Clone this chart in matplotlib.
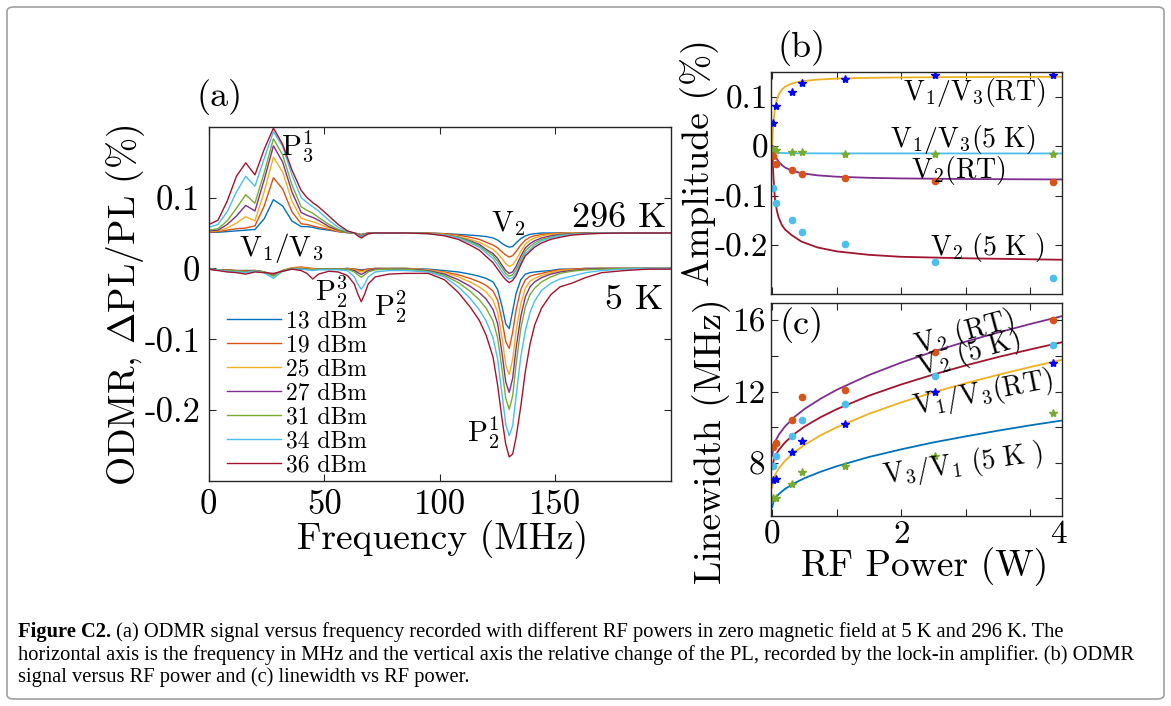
import matplotlib
matplotlib.use("Agg")
import matplotlib.pyplot as plt
from matplotlib.patches import FancyBboxPatch

plt.rcParams['font.family'] = ['cmr10', 'DejaVu Serif']
plt.rcParams['mathtext.fontset'] = 'cm'
plt.rcParams['axes.unicode_minus'] = False

# ---------------- data: panel (a) ----------------
freq_mhz = [0, 4, 8, 12, 16, 20, 24, 28, 32, 36,
            40, 42.5, 45, 47.5, 52, 56, 60, 63, 64.5, 66,
            67.5, 69, 72, 78, 85, 95, 102, 108, 113, 117,
            120, 123, 125, 127, 128.5, 130, 131.5, 133, 135, 137,
            139, 141, 144, 148, 152, 157, 163, 170, 180, 190,
            200]

power_labels = ["13 dBm", "19 dBm", "25 dBm", "27 dBm", "31 dBm", "34 dBm", "36 dBm"]
offset_296k = 0.05

odmr_296k_13 = [0.001, 0.001, 0.002, 0.003, 0.004, 0.005, 0.020, 0.047, 0.038, 0.017,
                0.009, 0.009, 0.008, 0.006, 0.004, 0.002, 0.0005, 0.0, -0.001, -0.002,
                -0.001, 0.0, 0.0, 0.0, 0.0, 0.0, -0.001, -0.002, -0.003, -0.004,
                -0.005, -0.007, -0.010, -0.015, -0.018, -0.020, -0.019, -0.014, -0.008, -0.004,
                -0.002, -0.001, 0.0, 0.0, 0.0, 0.0, 0.0, 0.0, 0.0, 0.0,
                0.0]
odmr_296k_19 = [0.001, 0.002, 0.004, 0.006, 0.007, 0.010, 0.038, 0.078, 0.062, 0.030,
                0.013, 0.012, 0.010, 0.008, 0.005, 0.002, 0.0005, 0.0, -0.0012, -0.0025,
                -0.0012, 0.0, 0.0, 0.0, 0.0, 0.0, -0.001, -0.003, -0.006, -0.009,
                -0.013, -0.017, -0.021, -0.027, -0.031, -0.034, -0.032, -0.026, -0.017, -0.010,
                -0.006, -0.004, -0.002, -0.001, 0.0, 0.0, 0.0, 0.0, 0.0, 0.0,
                0.0]
odmr_296k_25 = [0.002, 0.003, 0.007, 0.014, 0.023, 0.017, 0.058, 0.107, 0.086, 0.045,
                0.021, 0.018, 0.016, 0.013, 0.007, 0.003, 0.001, 0.0, -0.0015, -0.003,
                -0.0015, -0.0005, 0.0, 0.0, 0.0, 0.0, -0.002, -0.005, -0.009, -0.013,
                -0.018, -0.023, -0.029, -0.037, -0.043, -0.047, -0.045, -0.038, -0.026, -0.016,
                -0.010, -0.007, -0.004, -0.002, -0.001, 0.0, 0.0, 0.0, 0.0, 0.0,
                0.0]
odmr_296k_27 = [0.003, 0.004, 0.012, 0.024, 0.039, 0.031, 0.075, 0.123, 0.100, 0.058,
                0.029, 0.025, 0.022, 0.018, 0.009, 0.004, 0.001, 0.0, -0.002, -0.004,
                -0.002, -0.0005, 0.0, 0.0, 0.0, -0.0005, -0.003, -0.006, -0.011, -0.016,
                -0.023, -0.029, -0.036, -0.046, -0.053, -0.057, -0.055, -0.047, -0.033, -0.021,
                -0.015, -0.011, -0.007, -0.004, -0.002, -0.001, 0.0, 0.0, 0.0, 0.0,
                0.0]
odmr_296k_31 = [0.004, 0.006, 0.017, 0.035, 0.054, 0.042, 0.085, 0.133, 0.110, 0.068,
                0.037, 0.032, 0.028, 0.022, 0.012, 0.005, 0.001, 0.0, -0.003, -0.0055,
                -0.003, -0.001, 0.0, 0.0, 0.0, -0.0005, -0.003, -0.006, -0.012, -0.018,
                -0.025, -0.032, -0.040, -0.050, -0.057, -0.061, -0.059, -0.052, -0.038, -0.025,
                -0.019, -0.014, -0.009, -0.006, -0.003, -0.0015, -0.0005, 0.0, 0.0, 0.0,
                0.0]
odmr_296k_34 = [0.008, 0.012, 0.030, 0.058, 0.080, 0.066, 0.105, 0.143, 0.122, 0.082,
                0.050, 0.043, 0.037, 0.031, 0.018, 0.008, 0.002, 0.0, -0.003, -0.005,
                -0.003, -0.001, 0.0, 0.0, 0.0, -0.001, -0.003, -0.007, -0.014, -0.020,
                -0.028, -0.036, -0.045, -0.055, -0.061, -0.065, -0.063, -0.056, -0.042, -0.029,
                -0.023, -0.017, -0.011, -0.007, -0.004, -0.002, -0.001, 0.0, 0.0, 0.0,
                0.0]
odmr_296k_36 = [0.012, 0.018, 0.045, 0.080, 0.099, 0.082, 0.118, 0.148, 0.125, 0.089,
                0.060, 0.050, 0.043, 0.037, 0.024, 0.012, 0.003, 0.000, -0.004, -0.007,
                -0.004, -0.001, 0.0, 0.0, 0.0, -0.001, -0.004, -0.009, -0.017, -0.024,
                -0.033, -0.042, -0.051, -0.060, -0.066, -0.070, -0.067, -0.060, -0.045, -0.032,
                -0.026, -0.020, -0.014, -0.009, -0.006, -0.003, -0.0015, -0.0005, 0.0, 0.0,
                0.0]

odmr_5k_13 = [-0.001, -0.002, -0.002, -0.003, -0.003, -0.003, -0.005, -0.009, -0.004, 0.0,
              0.001, 0.0, -0.001, -0.001, -0.001, -0.001, 0.0, -0.001, -0.0015, -0.002,
              -0.0015, -0.001, 0.0, 0.0, 0.0, -0.001, -0.003, -0.005, -0.008, -0.011,
              -0.014, -0.019, -0.030, -0.055, -0.078, -0.085, -0.060, -0.035, -0.016, -0.008,
              -0.006, -0.005, -0.004, -0.003, -0.001, -0.001, 0.0, 0.0, 0.0, 0.0,
              0.0]
odmr_5k_19 = [-0.001, -0.002, -0.002, -0.003, -0.003, -0.003, -0.005, -0.009, -0.003, 0.001,
              0.002, 0.001, 0.0, -0.001, -0.001, -0.001, 0.0, -0.001, -0.002, -0.003,
              -0.002, -0.001, 0.0, 0.0, 0.0, -0.002, -0.005, -0.009, -0.014, -0.019,
              -0.024, -0.032, -0.045, -0.075, -0.103, -0.113, -0.090, -0.058, -0.030, -0.016,
              -0.011, -0.009, -0.007, -0.004, -0.002, -0.001, 0.0, 0.0, 0.0, 0.0,
              0.0]
odmr_5k_25 = [-0.001, -0.002, -0.003, -0.003, -0.004, -0.003, -0.005, -0.010, -0.003, 0.001,
              0.001, 0.0, -0.001, -0.001, -0.001, -0.001, -0.0005, -0.002, -0.004, -0.005,
              -0.004, -0.002, -0.001, -0.0005, 0.0, -0.002, -0.006, -0.012, -0.019, -0.026,
              -0.033, -0.045, -0.062, -0.100, -0.136, -0.150, -0.128, -0.088, -0.050, -0.028,
              -0.018, -0.014, -0.010, -0.006, -0.003, -0.002, -0.001, 0.0, 0.0, 0.0,
              0.0]
odmr_5k_27 = [-0.001, -0.002, -0.003, -0.004, -0.004, -0.003, -0.005, -0.010, -0.003, 0.0,
              0.0, -0.001, -0.002, -0.001, -0.001, -0.001, -0.001, -0.003, -0.006, -0.0085,
              -0.006, -0.003, -0.001, -0.001, -0.0005, -0.003, -0.008, -0.016, -0.025, -0.034,
              -0.043, -0.058, -0.078, -0.122, -0.160, -0.175, -0.155, -0.112, -0.068, -0.040,
              -0.026, -0.019, -0.013, -0.008, -0.005, -0.003, -0.001, 0.0, 0.0, 0.0,
              0.0]
odmr_5k_31 = [-0.001, -0.002, -0.003, -0.004, -0.005, -0.003, -0.005, -0.011, -0.003, 0.0,
              -0.001, -0.001, -0.002, -0.001, -0.001, -0.001, -0.001, -0.005, -0.009, -0.0125,
              -0.009, -0.005, -0.002, -0.001, -0.001, -0.004, -0.010, -0.020, -0.032, -0.044,
              -0.056, -0.074, -0.098, -0.145, -0.183, -0.199, -0.180, -0.135, -0.085, -0.054,
              -0.037, -0.028, -0.019, -0.012, -0.007, -0.004, -0.002, -0.001, 0.0, 0.0,
              0.0]
odmr_5k_34 = [-0.001, -0.002, -0.004, -0.005, -0.006, -0.004, -0.006, -0.014, -0.004, -0.001,
              -0.001, -0.002, -0.003, -0.002, -0.002, -0.002, -0.003, -0.012, -0.022, -0.0295,
              -0.022, -0.012, -0.005, -0.003, -0.003, -0.005, -0.012, -0.026, -0.042, -0.058,
              -0.074, -0.098, -0.128, -0.180, -0.220, -0.236, -0.222, -0.180, -0.125, -0.088,
              -0.062, -0.046, -0.031, -0.021, -0.015, -0.011, -0.006, -0.003, -0.001, 0.0,
              0.0]
odmr_5k_36 = [-0.001, -0.003, -0.005, -0.006, -0.008, -0.005, -0.006, -0.007, -0.004, -0.001,
              -0.003, -0.007, -0.015, -0.008, -0.004, -0.005, -0.010, -0.022, -0.036, -0.047,
              -0.036, -0.022, -0.012, -0.008, -0.007, -0.007, -0.016, -0.034, -0.054, -0.073,
              -0.094, -0.125, -0.165, -0.215, -0.248, -0.266, -0.262, -0.238, -0.195, -0.145,
              -0.107, -0.080, -0.056, -0.037, -0.026, -0.021, -0.013, -0.006, -0.003, -0.001,
              -0.001]

# ---------------- data: panels (b) and (c) ----------------
rf_power_w = [0.01, 0.06, 0.30, 0.46, 1.13, 2.53, 4.35]

amp_v13_rt = [0.047, 0.081, 0.110, 0.129, 0.137, 0.145, 0.145]
amp_v13_5k = [-0.005, -0.008, -0.012, -0.012, -0.015, -0.015, -0.015]
amp_v2_rt = [-0.020, -0.036, -0.049, -0.056, -0.064, -0.071, -0.072]
amp_v2_5k = [-0.084, -0.114, -0.149, -0.174, -0.198, -0.235, -0.267]

fit_power_b = [0, 0.005, 0.01, 0.02, 0.04, 0.07, 0.1, 0.15, 0.2, 0.3, 0.45, 0.7, 1.0, 1.5, 2.0, 3.0, 4.49]
fit_amp_v13_rt = [0.0, 0.0178, 0.0316, 0.0516, 0.0757, 0.0947, 0.1052, 0.1151, 0.1209, 0.1272,
                  0.1318, 0.1352, 0.1372, 0.1388, 0.1396, 0.1404, 0.1409]
fit_amp_v13_5k = [0.0, -0.0048, -0.0073, -0.0097, -0.0116, -0.0127, -0.0132, -0.0136, -0.0138, -0.0140,
                  -0.0142, -0.0143, -0.0144, -0.0144, -0.0144, -0.0145, -0.0145]
fit_amp_v2_rt = [0.0, -0.0028, -0.0053, -0.0099, -0.0173, -0.0254, -0.0314, -0.0383, -0.0431, -0.0493,
                 -0.0545, -0.0589, -0.0616, -0.0639, -0.0651, -0.0663, -0.0672]
fit_amp_v2_5k = [0.0, -0.022, -0.040, -0.068, -0.105, -0.130, -0.145, -0.160, -0.169, -0.180,
                 -0.193, -0.205, -0.213, -0.220, -0.224, -0.227, -0.230]

lw_v2_rt = [8.9, 9.1, 10.4, 11.7, 12.1, 14.2, 16.0]
lw_v2_5k = [7.8, 8.4, 9.5, 10.4, 11.3, 12.9, 14.6]
lw_v13_rt = [7.05, 7.1, 8.6, 9.2, 10.2, 12.0, 13.6]
lw_v31_5k = [6.0, 6.0, 6.8, 7.5, 7.8, 8.4, 10.8]

fit_power_c = [0, 0.02, 0.05, 0.1, 0.2, 0.35, 0.5, 0.75, 1.0, 1.5, 2.0, 2.5, 3.0, 3.5, 4.0, 4.49]
fit_lw_v2_rt = [8.40, 8.92, 9.23, 9.57, 10.05, 10.59, 11.02, 11.60, 12.10, 12.93, 13.63, 14.25, 14.81, 15.32, 15.80, 16.24]
fit_lw_v2_5k = [7.65, 8.12, 8.40, 8.71, 9.15, 9.64, 10.03, 10.56, 11.01, 11.77, 12.40, 12.96, 13.47, 13.94, 14.37, 14.77]
fit_lw_v13_rt = [6.60, 7.08, 7.36, 7.67, 8.12, 8.61, 9.00, 9.54, 9.99, 10.75, 11.39, 11.96, 12.47, 12.94, 13.38, 13.78]
fit_lw_v31_5k = [5.50, 5.82, 6.02, 6.23, 6.53, 6.86, 7.13, 7.49, 7.80, 8.32, 8.75, 9.14, 9.48, 9.80, 10.10, 10.37]

caption_lines = [
    " (a) ODMR signal versus frequency recorded with different RF powers in zero magnetic field at 5 K and 296 K. The",
    "horizontal axis is the frequency in MHz and the vertical axis the relative change of the PL, recorded by the lock-in amplifier. (b) ODMR",
    "signal versus RF power and (c) linewidth vs RF power.",
]

# ---------------- styling ----------------
C_BLUE, C_ORANGE, C_YELLOW, C_PURPLE = '#0072BD', '#D95319', '#EDB120', '#7E2F8E'
C_GREEN, C_CYAN, C_RED = '#77AC30', '#4DBEEE', '#A2142F'
curve_colors = [C_BLUE, C_ORANGE, C_YELLOW, C_PURPLE, C_GREEN, C_CYAN, C_RED]
FRAME = '#262626'

W, H = 1171, 706
fig = plt.figure(figsize=(W / 100, H / 100), dpi=100)


def fx(px):
    return px / W


def fy(py):
    return 1 - py / H


def style(ax, fs, pad):
    for s in ax.spines.values():
        s.set_color(FRAME)
        s.set_linewidth(1.0)
    ax.tick_params(which='major', direction='in', top=True, right=True, length=5,
                   width=0.8, color=FRAME, labelcolor='black', labelsize=fs, pad=pad)


axA = fig.add_axes([fx(208.7), fy(481), (671 - 208.7) / W, (481 - 126.7) / H])
axB = fig.add_axes([fx(771), fy(294.3), (1061.7 - 771) / W, (294.3 - 72.3) / H])
axC = fig.add_axes([fx(771), fy(516), (1061.7 - 771) / W, (516 - 302.7) / H])

# ---------------- panel (a) ----------------
set_296 = [odmr_296k_13, odmr_296k_19, odmr_296k_25, odmr_296k_27, odmr_296k_31, odmr_296k_34, odmr_296k_36]
set_5 = [odmr_5k_13, odmr_5k_19, odmr_5k_25, odmr_5k_27, odmr_5k_31, odmr_5k_34, odmr_5k_36]
for col, ys in zip(curve_colors, set_296):
    axA.plot(freq_mhz, [offset_296k + v for v in ys], color=col, lw=1.0)
for col, ys, lab in zip(curve_colors, set_5, power_labels):
    axA.plot(freq_mhz, ys, color=col, lw=1.0, label=lab)

axA.set_xlim(0, 200)
axA.set_ylim(-0.3, 0.2)
axA.set_xticks([0, 50, 100, 150])
axA.set_xticklabels(['0', '50', '100', '150'])
axA.set_yticks([-0.2, -0.1, 0, 0.1])
axA.set_yticklabels(['-0.2', '-0.1', '0', '0.1'])
style(axA, 25, 6)

axA.legend(loc='upper left', bbox_to_anchor=(0.0396, 0.482), frameon=False, fontsize=17,
           handlelength=2.3, handletextpad=0.2, labelspacing=0.08, borderpad=0, borderaxespad=0)

ann_fs = 21
axA.text(38.5, 0.1727, r'$\mathrm{P}_3^1$', fontsize=ann_fs, ha='center', va='center')
axA.text(129.7, 0.0627, r'$\mathrm{V}_2$', fontsize=ann_fs, ha='center', va='center')
axA.text(177.6, 0.071, '296 K', fontsize=26, ha='center', va='center')
axA.text(31.2, 0.0288, r'$\mathrm{V}_1/\mathrm{V}_3$', fontsize=ann_fs, ha='center', va='center')
axA.text(52.8, -0.033, r'$\mathrm{P}_2^3$', fontsize=ann_fs, ha='center', va='center')
axA.text(78.3, -0.0545, r'$\mathrm{P}_2^2$', fontsize=ann_fs, ha='center', va='center')
axA.text(184, -0.0447, '5 K', fontsize=26, ha='center', va='center')
axA.text(118.9, -0.232, r'$\mathrm{P}_2^1$', fontsize=ann_fs, ha='center', va='center')

# ---------------- panel (b) ----------------
axB.plot(fit_power_b, fit_amp_v13_rt, color=C_YELLOW, lw=1.3)
axB.plot(fit_power_b, fit_amp_v13_5k, color=C_CYAN, lw=1.3)
axB.plot(fit_power_b, fit_amp_v2_rt, color=C_PURPLE, lw=1.3)
axB.plot(fit_power_b, fit_amp_v2_5k, color=C_RED, lw=1.3)
axB.plot(rf_power_w, amp_v13_rt, ls='none', marker='*', ms=6, color='#0000FF')
axB.plot(rf_power_w, amp_v13_5k, ls='none', marker='*', ms=6, color=C_GREEN)
axB.plot(rf_power_w, amp_v2_rt, ls='none', marker='o', ms=4.5, color=C_ORANGE)
axB.plot(rf_power_w, amp_v2_5k, ls='none', marker='o', ms=4.5, color=C_CYAN)
axB.set_xlim(-0.02, 4.49)
axB.set_ylim(-0.3, 0.15)
axB.set_xticks([0, 1, 2, 3, 4])
axB.set_xticklabels([])
axB.set_yticks([-0.2, -0.1, 0, 0.1])
axB.set_yticklabels(['-0.2', '-0.1', '0', '0.1'])
style(axB, 24, 2)

lab_fs = 20
axB.text(3.14, 0.110, r'$\mathrm{V}_1/\mathrm{V}_3(\mathrm{RT})$', fontsize=lab_fs, ha='center', va='center')
axB.text(2.96, 0.013, r'$\mathrm{V}_1/\mathrm{V}_3(5\ \mathrm{K})$', fontsize=lab_fs, ha='center', va='center')
axB.text(2.89, -0.049, r'$\mathrm{V}_2(\mathrm{RT})$', fontsize=lab_fs, ha='center', va='center')
axB.text(3.33, -0.206, r'$\mathrm{V}_2\ (5\ \mathrm{K}\ )$', fontsize=lab_fs, ha='center', va='center')

# ---------------- panel (c) ----------------
axC.plot(fit_power_c, fit_lw_v2_rt, color=C_PURPLE, lw=1.3)
axC.plot(fit_power_c, fit_lw_v2_5k, color=C_RED, lw=1.3)
axC.plot(fit_power_c, fit_lw_v13_rt, color=C_YELLOW, lw=1.3)
axC.plot(fit_power_c, fit_lw_v31_5k, color=C_BLUE, lw=1.3)
axC.plot(rf_power_w, lw_v2_rt, ls='none', marker='o', ms=4.5, color=C_ORANGE)
axC.plot(rf_power_w, lw_v2_5k, ls='none', marker='o', ms=4.5, color=C_CYAN)
axC.plot(rf_power_w, lw_v13_rt, ls='none', marker='*', ms=6, color='#0000FF')
axC.plot(rf_power_w, lw_v31_5k, ls='none', marker='*', ms=6, color=C_GREEN)
axC.set_xlim(-0.02, 4.49)
axC.set_ylim(5, 17)
axC.set_xticks([0, 1, 2, 3, 4])
axC.set_xticklabels(['0', '', '2', '', ''])
axC.set_xticks([4.44], minor=True)
axC.set_xticklabels(['4'], minor=True)
axC.set_yticks([6, 8, 10, 12, 14, 16])
axC.set_yticklabels(['', '8', '', '12', '', '16'])
style(axC, 24, 4)
axC.tick_params(which='minor', length=0, labelsize=24, pad=3, labelcolor='black')
axC.tick_params(axis='x', which='major', pad=3)

axC.text(2.99, 15.29, r'$\mathrm{V}_2\ (\mathrm{RT})$', fontsize=lab_fs, ha='center', va='center', rotation=15)
axC.text(3.04, 14.15, r'$\mathrm{V}_2\ (5\ \mathrm{K})$', fontsize=lab_fs, ha='center', va='center', rotation=16)
axC.text(3.27, 11.91, r'$\mathrm{V}_1/\mathrm{V}_3(\mathrm{RT})$', fontsize=lab_fs, ha='center', va='center', rotation=11)
axC.text(2.96, 7.88, r'$\mathrm{V}_3/\mathrm{V}_1\ (5\ \mathrm{K}\ )$', fontsize=lab_fs, ha='center', va='center', rotation=8)

# ---------------- labels ----------------
lbl_fs = 27
fig.text(fx(126), fy(305), r'ODMR, $\Delta$PL/PL (%)', fontsize=lbl_fs, rotation=90, ha='center', va='center')
fig.text(fx(443), fy(540), 'Frequency (MHz)', fontsize=lbl_fs, ha='center', va='center')
fig.text(fx(700), fy(163), 'Amplitude (%)', fontsize=lbl_fs, rotation=90, ha='center', va='center')
fig.text(fx(712), fy(441), 'Linewidth (MHz)', fontsize=lbl_fs, rotation=90, ha='center', va='center')
fig.text(fx(925), fy(567), 'RF Power (W)', fontsize=lbl_fs, ha='center', va='center')
fig.text(fx(220), fy(97), '(a)', fontsize=26, ha='center', va='center')
fig.text(fx(802), fy(48), '(b)', fontsize=26, ha='center', va='center')
fig.text(fx(802), fy(325), '(c)', fontsize=26, ha='center', va='center')

# ---------------- caption ----------------
cap_fs = 14.8
cap_family = ['Liberation Serif', 'DejaVu Serif']
base_y = [637, 660, 682]
t_bold = fig.text(fx(18), fy(base_y[0]), 'Figure C2.', fontsize=cap_fs, family=cap_family,
                  fontweight='bold', va='baseline', ha='left')
fig.canvas.draw()
bb = t_bold.get_window_extent()
fig.text(bb.x1 / W, fy(base_y[0]), caption_lines[0], fontsize=cap_fs, family=cap_family,
         va='baseline', ha='left')
fig.text(fx(18), fy(base_y[1]), caption_lines[1], fontsize=cap_fs, family=cap_family,
         va='baseline', ha='left')
fig.text(fx(18), fy(base_y[2]), caption_lines[2], fontsize=cap_fs, family=cap_family,
         va='baseline', ha='left')

border = FancyBboxPatch((fx(7), fy(699)), (W - 14) / W, (699 - 7) / H,
                        boxstyle='round,pad=0,rounding_size=0.006', transform=fig.transFigure,
                        fill=False, edgecolor='#a0a0a0', lw=1.2)
fig.add_artist(border)

fig.savefig('out.png', dpi=100)
